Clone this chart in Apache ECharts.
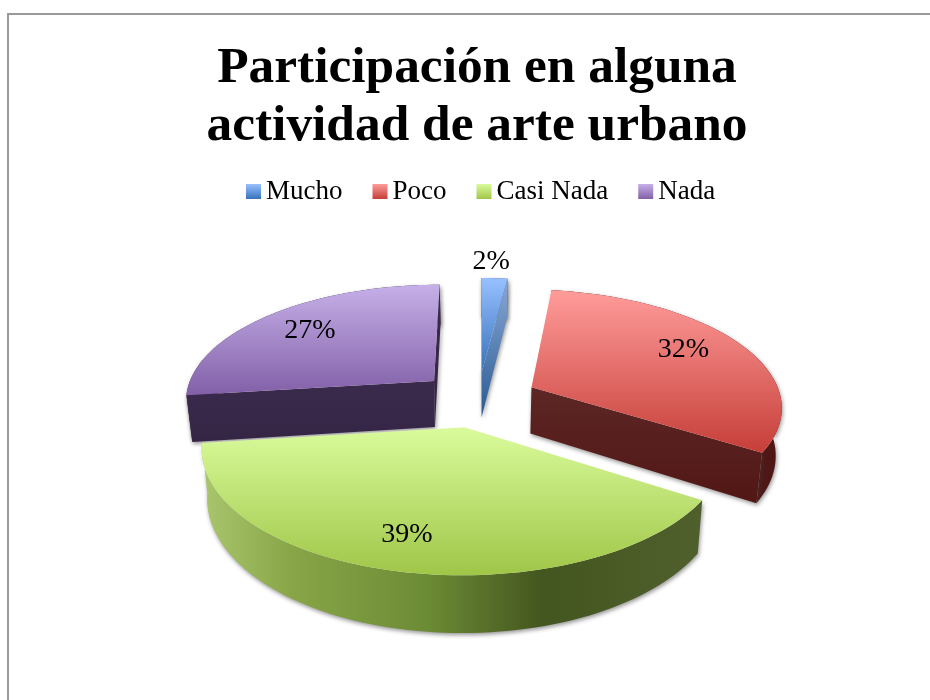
<!DOCTYPE html>
<html>
<head>
<meta charset="utf-8">
<title>Arte urbano</title>
<script src="https://cdn.jsdelivr.net/npm/echarts@6/dist/echarts.min.js"></script>
<style>
  html, body { margin: 0; padding: 0; background: #fff; }
  #main { width: 930px; height: 700px; }
</style>
</head>
<body>
<div id="main"></div>
<script>
const categories = ['Mucho', 'Poco', 'Casi Nada', 'Nada']
const shares = [2, 32, 39, 27]

// colores: cara superior (arriba, abajo) por categoria
const topColors = [
  ['#98c0ff', '#3672ba'],
  ['#ff9c9a', '#c63e38'],
  ['#dafb9c', '#a0c648'],
  ['#c6b0e8', '#8260a8']
]
const cutColors = [
  ['#8ca8d4', '#285a94'],
  ['#5c2725', '#511715'],
  ['#4e6230', '#44561f'],
  ['#3a2a4c', '#352545']
]
const rimStops = [
  [[0, '#3a6aa4'], [1, '#2a5a94']],
  [[0, '#541a18'], [1, '#4e1715']],
  [[0, '#aac66e'], [0.18, '#88a647'], [0.45, '#6c8b35'], [0.68, '#44561f'], [1, '#4f602d']],
  [[0, '#37274a'], [1, '#37274a']]
]
// orden de pintado: lo de atras primero
const paintOrder = [2, 3, 4, 1]

// geometria de la torta en perspectiva
const CX = 478
const CY = 399
const RX = 250
const RY = 116
const PERSP = 0.152
const EXPLODE = 0.24
const DEPTH = 47
const BOTTOM_SHRINK = 0.02

// etiquetas: radio y ajuste fino en pixeles
const labelRadii = [1.25, 0.72, 0.72, 0.72]
const labelNudge = [[-6, 3], [1, -5], [-10, 9], [-4, -1]]

const total = shares.reduce((a, b) => a + b, 0)

function project (x, y, z) {
  const s = 1 / (1 - PERSP * y)
  return [CX + RX * x * s * (1 - BOTTOM_SHRINK * z), CY + RY * y * s + DEPTH * z * s]
}

function vGrad (stops) {
  return { type: 'linear', x: 0, y: 0, x2: 0, y2: 1, colorStops: stops.map((c, i) => ({ offset: i, color: c })) }
}

function hGrad (stops) {
  return { type: 'linear', x: 0, y: 0, x2: 1, y2: 0, colorStops: stops.map(s => ({ offset: s[0], color: s[1] })) }
}

function renderSlice (idx) {
  return function (params, api) {
    const value = api.value(0)
    const before = shares.slice(0, idx).reduce((a, b) => a + b, 0)
    const a0 = before / total * Math.PI * 2
    const a1 = a0 + value / total * Math.PI * 2
    const mid = (a0 + a1) / 2
    const ox = Math.sin(mid) * EXPLODE
    const oy = -Math.cos(mid) * EXPLODE

    const rimAt = (a, z) => project(ox + Math.sin(a), oy - Math.cos(a), z)
    const apex = z => project(ox, oy, z)
    const steps = Math.max(4, Math.ceil(value * 2))
    const arcTop = []
    const arcBottom = []
    for (let i = 0; i <= steps; i++) {
      const a = a0 + (a1 - a0) * i / steps
      arcTop.push(rimAt(a, 0))
      arcBottom.push(rimAt(a, 1))
    }

    const shadow = { shadowColor: 'rgba(60,60,60,0.55)', shadowBlur: 4, shadowOffsetX: 1, shadowOffsetY: 2 }
    const cut = a => ({
      type: 'polygon',
      shape: { points: [apex(0), rimAt(a, 0), rimAt(a, 1), apex(1)] },
      style: Object.assign({ fill: vGrad(cutColors[idx]) }, shadow)
    })
    // solo las paredes de corte que miran hacia la camara
    const facing = (nx, ny) => nx * (0 - ox) + ny * (1 / PERSP - oy) > 0
    const cuts = []
    if (facing(-Math.cos(a0), -Math.sin(a0))) cuts.push(cut(a0))
    if (facing(Math.cos(a1), Math.sin(a1))) cuts.push(cut(a1))

    const labelR = labelRadii[idx]
    const labelPos = project(ox + Math.sin(mid) * labelR, oy - Math.cos(mid) * labelR, 0)

    return {
      type: 'group',
      children: [
        {
          type: 'polygon',
          shape: { points: arcTop.concat(arcBottom.slice().reverse()) },
          style: Object.assign({ fill: hGrad(rimStops[idx]) }, shadow)
        },
        ...cuts,
        {
          type: 'polygon',
          shape: { points: [apex(0)].concat(arcTop) },
          style: { fill: vGrad(topColors[idx]) }
        },
        {
          type: 'text',
          style: {
            x: labelPos[0] + labelNudge[idx][0],
            y: labelPos[1] + labelNudge[idx][1],
            text: value + '%',
            align: 'center',
            verticalAlign: 'middle',
            font: '28px "Liberation Serif"',
            fill: '#000'
          }
        }
      ]
    }
  }
}

const chart = echarts.init(document.getElementById('main'))

chart.setOption({
  animation: false,
  backgroundColor: '#fff',
  title: {
    text: 'Participación en alguna\nactividad de arte urbano',
    left: 472,
    top: 35,
    textAlign: 'center',
    textStyle: {
      fontFamily: 'Liberation Serif',
      fontWeight: 'bold',
      fontSize: 51.4,
      lineHeight: 58,
      color: '#000'
    }
  },
  legend: {
    left: 241,
    top: 173,
    itemWidth: 15,
    itemHeight: 15,
    itemGap: 30,
    icon: 'rect',
    textStyle: { fontFamily: 'Liberation Serif', fontSize: 27, color: '#000' },
    data: categories.map((name, i) => ({ name, itemStyle: { color: vGrad(topColors[i]) } }))
  },
  graphic: [{
    type: 'polyline',
    shape: { points: [[8, 700], [8, 14], [930, 14]] },
    style: { stroke: '#9a9a9a', lineWidth: 2, fill: 'none' },
    silent: true
  }],
  series: categories.map((name, i) => ({
    type: 'custom',
    name,
    coordinateSystem: 'none',
    z: paintOrder[i],
    itemStyle: { color: topColors[i][1] },
    data: [[shares[i]]],
    renderItem: renderSlice(i)
  }))
})
</script>
</body>
</html>
